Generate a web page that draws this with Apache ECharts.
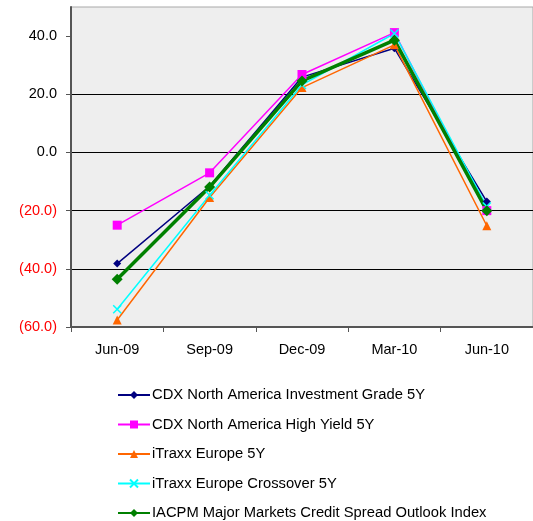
<!DOCTYPE html>
<html>
<head>
<meta charset="utf-8">
<script src="https://cdn.jsdelivr.net/npm/echarts@6/dist/echarts.min.js"></script>
<style>
html,body{margin:0;padding:0;background:#fff;}
#c{width:533px;height:521px;}
</style>
</head>
<body>
<div id="c"></div>
<script>
var categories = ['Jun-09', 'Sep-09', 'Dec-09', 'Mar-10', 'Jun-10'];
var cdxIG = [-38.2, -11.6, 25.9, 35.8, -16.9];
var cdxHY = [-25.0, -7.0, 26.8, 41.2, -20.0];
var itraxxEU = [-57.6, -15.5, 22.3, 37.0, -25.2];
var itraxxXO = [-53.9, -14.7, 23.2, 40.9, -18.6];
var iacpm = [-43.6, -11.9, 24.6, 38.6, -20.0];
var yTicks = [-60, -40, -20, 0, 20, 40];
var seriesNames = [
  'CDX North America Investment Grade 5Y',
  'CDX North America High Yield 5Y',
  'iTraxx Europe 5Y',
  'iTraxx Europe Crossover 5Y',
  'IACPM Major Markets Credit Spread Outlook Index'
];

var FONT = '"Liberation Sans", Arial, sans-serif';
var chart = echarts.init(document.getElementById('c'), null, {renderer: 'canvas'});

function mk(name, data, color, symbol, size, width, extra) {
  var s = {
    name: name, type: 'line', data: data,
    symbol: symbol, symbolSize: size,
    lineStyle: {color: color, width: width},
    itemStyle: {color: color},
    animation: false
  };
  if (extra) Object.assign(s, extra);
  return s;
}

chart.setOption({
  animation: false,
  textStyle: {fontFamily: FONT},
  grid: {
    left: 71, top: 7, width: 467, bottom: 194,
    show: true, backgroundColor: '#eeeeee', borderColor: '#a8a8a8', borderWidth: 1,
    containLabel: false
  },
  legend: {
    orient: 'vertical', left: 117, top: 387, padding: 0, height: 140,
    itemWidth: 32, itemHeight: 10, itemGap: 13.5,
    textStyle: {fontFamily: FONT, fontSize: 14.75, color: '#000', lineHeight: 16, padding: [0, 0, 0, -3]},
    data: seriesNames
  },
  xAxis: {
    type: 'category', data: categories, boundaryGap: true,
    axisLine: {onZero: false, lineStyle: {color: '#555', width: 2}},
    axisTick: {show: true, alignWithLabel: false, length: 5, lineStyle: {color: '#555', width: 1}},
    axisLabel: {fontFamily: FONT, fontSize: 14.5, color: '#000', margin: 15},
    splitLine: {show: false}
  },
  yAxis: {
    type: 'value', min: -60, max: 50, interval: 20,
    axisLine: {show: true, lineStyle: {color: '#555', width: 2}},
    axisTick: {show: true, length: 5, customValues: yTicks, lineStyle: {color: '#555', width: 1}},
    axisLabel: {
      fontFamily: FONT, fontSize: 14.5, margin: 14, customValues: yTicks,
      formatter: function (v) {
        return v < 0 ? '(' + Math.abs(v).toFixed(1) + ')' : v.toFixed(1);
      },
      color: function (v) { return Number(v) < 0 ? '#ff0000' : '#000000'; }
    },
    splitLine: {show: true, showMaxLine: false, showMinLine: false, lineStyle: {color: '#000', width: 1}}
  },
  series: [
    mk(seriesNames[0], cdxIG, '#000080', 'diamond', 8, 1.5),
    mk(seriesNames[1], cdxHY, '#ff00ff', 'rect', 9, 1.5),
    mk(seriesNames[2], itraxxEU, '#ff6600', 'triangle', 9, 1.5),
    mk(seriesNames[3], itraxxXO, '#00ffff', 'path://M0,0L10,10M10,0L0,10', 8, 1.5,
       {itemStyle: {color: 'none', borderColor: '#00ffff', borderWidth: 1.5}}),
    mk(seriesNames[4], iacpm, '#008000', 'diamond', 11, 3.5)
  ]
});
</script>
</body>
</html>
